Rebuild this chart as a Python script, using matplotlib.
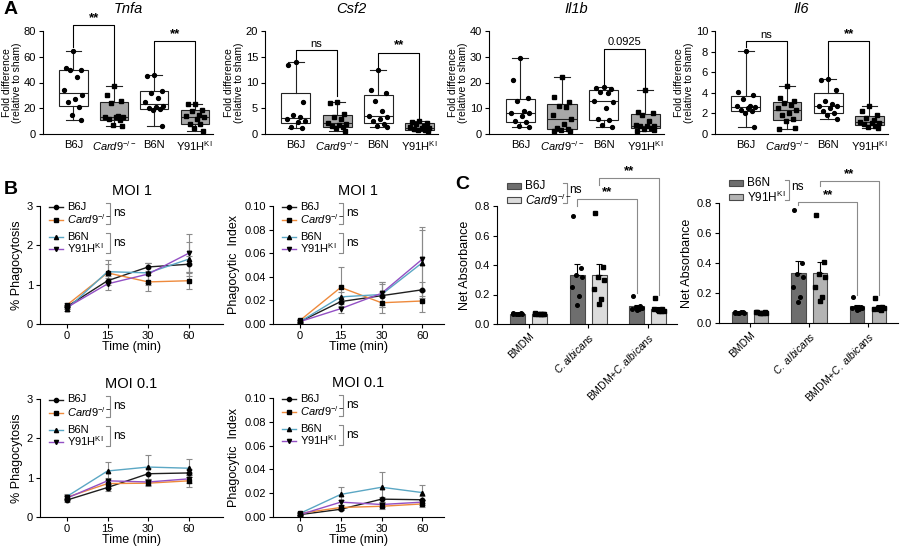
import numpy as np
import matplotlib
matplotlib.use('Agg')
import matplotlib.pyplot as plt
from matplotlib.patches import Rectangle

plt.rcParams['font.family'] = ['Liberation Sans', 'DejaVu Sans']
plt.rcParams['mathtext.fontset'] = 'custom'
plt.rcParams['mathtext.rm'] = 'Liberation Sans'
plt.rcParams['mathtext.it'] = 'Liberation Sans:italic'
plt.rcParams['mathtext.bf'] = 'Liberation Sans:bold'

W, H = 900, 549

# --- A: fold difference (relative to sham) ---
genotypes = ['B6J', r'$\mathit{Card9}^{-/-}$', 'B6N', r'Y91H$^{\mathrm{KI}}$']

tnfa_b6j = [64.5, 51.5, 50, 49.5, 44, 34, 30, 27, 25, 21, 15, 10.5]
tnfa_card9 = [37.3, 30, 25.5, 24, 14, 13.5, 13.5, 13, 12, 11, 7, 6.4]
tnfa_b6n = [45.8, 45, 33.5, 32, 28, 25, 22, 21, 20, 19.5, 19, 6]
tnfa_y91h = [23.4, 23, 18.5, 18, 15, 14, 13, 12, 8, 7.5, 5, 2.6]

csf2_b6j = [13.9, 13.4, 6.2, 3.7, 3.3, 3.0, 2.6, 2.4, 1.3, 1.2]
csf2_card9 = [6.2, 6.0, 3.8, 3.3, 2.9, 2.2, 2.0, 1.8, 1.5, 1.3, 1.1, 0.65]
csf2_b6n = [12.5, 8.5, 8.0, 6.4, 4.5, 3.5, 3.3, 3.0, 2.5, 2.0, 1.6, 1.4]
csf2_y91h = [2.6, 2.3, 2.1, 1.9, 1.5, 1.3, 1.2, 1.1, 0.9, 0.8, 0.7, 0.6]

il1b_b6j = [29.5, 21, 14, 13, 9, 8, 8, 7, 5, 4.5, 3, 2.7]
il1b_card9 = [22, 14.5, 12.5, 11, 10.5, 7.5, 6.0, 4.0, 2.2, 2.0, 1.5, 1.2, 1.0]
il1b_b6n = [18.3, 18, 17.5, 16.5, 16, 13, 12.5, 10, 6, 5.5, 3.5, 2.6]
il1b_y91h = [17, 8.5, 8, 7.5, 5, 3.5, 3.2, 3, 3, 2.5, 2, 1.5, 1]

il6_b6j = [8.1, 4.1, 3.8, 3.4, 2.7, 2.7, 2.6, 2.5, 2.3, 2.2, 2.0, 0.7]
il6_card9 = [4.65, 3.5, 3.2, 3.0, 2.8, 2.5, 2.3, 2.0, 1.8, 1.5, 1.3, 0.6, 0.5]
il6_b6n = [5.3, 5.2, 4.3, 3.2, 2.9, 2.7, 2.7, 2.5, 2.2, 2.0, 1.8, 1.45]
il6_y91h = [2.7, 2.2, 1.8, 1.6, 1.4, 1.2, 1.1, 1.1, 1.0, 0.8, 0.7, 0.6]

# --- B: phagocytosis time course ---
times = ['0', '15', '30', '60']
moi1_pct = {'B6J': [0.44, 1.10, 1.45, 1.52], 'Card9': [0.48, 1.30, 1.07, 1.10],
            'B6N': [0.38, 1.33, 1.30, 1.65], 'Y91H': [0.42, 1.02, 1.27, 1.80]}
moi1_pct_err = {'B6J': [0.05, 0.12, 0.10, 0.20], 'Card9': [0.05, 0.22, 0.23, 0.20],
                'B6N': [0.05, 0.30, 0.25, 0.43], 'Y91H': [0.05, 0.15, 0.27, 0.48]}
moi1_idx = {'B6J': [0.002, 0.019, 0.024, 0.029], 'Card9': [0.003, 0.031, 0.018, 0.0195],
            'B6N': [0.002, 0.023, 0.025, 0.052], 'Y91H': [0.002, 0.013, 0.026, 0.055]}
moi1_idx_err = {'B6J': [0.001, 0.004, 0.010, 0.007], 'Card9': [0.001, 0.017, 0.009, 0.009],
                'B6N': [0.001, 0.004, 0.011, 0.028], 'Y91H': [0.001, 0.004, 0.010, 0.027]}
moi01_pct = {'B6J': [0.43, 0.75, 1.10, 1.12], 'Card9': [0.50, 0.85, 0.86, 0.92],
             'B6N': [0.52, 1.17, 1.27, 1.24], 'Y91H': [0.48, 0.92, 0.89, 0.97]}
moi01_pct_err = {'B6J': [0.05, 0.10, 0.15, 0.10], 'Card9': [0.05, 0.10, 0.08, 0.15],
                 'B6N': [0.07, 0.23, 0.30, 0.23], 'Y91H': [0.05, 0.08, 0.08, 0.10]}
moi01_idx = {'B6J': [0.002, 0.0065, 0.015, 0.0145], 'Card9': [0.003, 0.008, 0.009, 0.011],
             'B6N': [0.003, 0.019, 0.025, 0.0205], 'Y91H': [0.002, 0.0125, 0.0105, 0.0125]}
moi01_idx_err = {'B6J': [0.001, 0.001, 0.002, 0.003], 'Card9': [0.001, 0.002, 0.002, 0.003],
                 'B6N': [0.001, 0.006, 0.013, 0.0065], 'Y91H': [0.001, 0.002, 0.002, 0.002]}

# --- C: net absorbance ---
conditions_left = ['BMDM', r'$\mathit{C. albicans}$', r'BMDM+$\mathit{C.albicans}$']
conditions_right = ['BMDM', r'$\mathit{C.\ albicans}$', r'BMDM+$\mathit{C.\ albicans}$']
b6j_abs = [[0.075, 0.072, 0.070, 0.068, 0.071, 0.066, 0.069],
           [0.73, 0.38, 0.33, 0.32, 0.25, 0.19, 0.13],
           [0.19, 0.12, 0.115, 0.11, 0.105, 0.10, 0.095]]
card9_abs = [[0.072, 0.070, 0.068, 0.071, 0.067, 0.069, 0.066],
             [0.755, 0.385, 0.32, 0.30, 0.24, 0.17, 0.135],
             [0.175, 0.10, 0.095, 0.09, 0.10, 0.085, 0.09]]
b6n_abs = [[0.074, 0.071, 0.069, 0.070, 0.068, 0.072, 0.067],
           [0.755, 0.40, 0.325, 0.31, 0.24, 0.175, 0.14],
           [0.175, 0.11, 0.105, 0.10, 0.10, 0.095, 0.09]]
y91h_abs = [[0.073, 0.071, 0.070, 0.068, 0.072, 0.069, 0.067],
            [0.72, 0.41, 0.325, 0.31, 0.24, 0.175, 0.145],
            [0.165, 0.105, 0.10, 0.10, 0.095, 0.09, 0.095]]

fig = plt.figure(figsize=(9, 5.49), dpi=100)


def add_ax(l, r, t, b):
    ax = fig.add_axes([l / W, 1 - b / H, (r - l) / W, (b - t) / H])
    ax.spines[['top', 'right']].set_visible(False)
    ax.spines[['left', 'bottom']].set_linewidth(0.8)
    ax.tick_params(direction='out', length=3, width=0.8, labelsize=8, pad=2)
    return ax


def ax_frac(ax, dx, dy):
    bb = ax.get_position()
    return dx / (bb.width * W), 1 - dy / (bb.height * H)


def bracket(ax, x1, x2, y, y1, y2, txt, color='k', fs=9, bold=False, dy=0.0):
    ax.plot([x1, x1, x2, x2], [y1, y, y, y2], color=color, lw=0.8, clip_on=False)
    ax.text((x1 + x2) / 2, y + dy, txt, ha='center', va='bottom', fontsize=fs,
            fontweight='bold' if bold else 'normal', clip_on=False)


jit = [0.0, -0.18, 0.18, -0.08, 0.1, -0.22, 0.22, 0.05, -0.13, 0.14, -0.03, 0.2, -0.2]

# ---------------- Panel A ----------------
a_panels = [
    ('Tnfa', [tnfa_b6j, tnfa_card9, tnfa_b6n, tnfa_y91h], 80, 20, 43, 213,
     [(0, 1, 84.4, 67.5, 39, '**'), (2, 3, 72.3, 48, 25.5, '**')]),
    ('Csf2', [csf2_b6j, csf2_card9, csf2_b6n, csf2_y91h], 20, 5, 265, 438,
     [(0, 1, 16.3, 14.5, 7.3, 'ns'), (2, 3, 15.8, 12.9, 3.2, '**')]),
    ('Il1b', [il1b_b6j, il1b_card9, il1b_b6n, il1b_y91h], 40, 10, 489, 664,
     [(2, 3, 33.2, 18.9, 17.7, '0.0925')]),
    ('Il6', [il6_b6j, il6_card9, il6_b6n, il6_y91h], 10, 2, 715, 888,
     [(0, 1, 9.0, 8.4, 4.8, 'ns'), (2, 3, 9.0, 5.6, 2.85, '**')]),
]
box_fill = ['white', '#a8a8a8', 'white', '#a8a8a8']
pt_marker = ['o', 's', 'o', 's']

for title, groups, ymax, ystep, l, r, sigs in a_panels:
    ax = add_ax(l, r, 31, 134)
    stats = []
    for g in groups:
        q1, med, q3 = np.percentile(g, [25, 50, 75], method='weibull')
        stats.append(dict(med=med, q1=q1, q3=q3, whislo=min(g), whishi=max(g), fliers=[]))
    bp = ax.bxp(stats, positions=range(4), widths=0.7, capwidths=0.38, patch_artist=True,
                showfliers=False, manage_ticks=False,
                boxprops=dict(linewidth=0.8, edgecolor='#222222'),
                whiskerprops=dict(linewidth=0.8, color='#222222'),
                capprops=dict(linewidth=0.8, color='#222222'),
                medianprops=dict(linewidth=0.8, color='#222222'))
    for patch, fc in zip(bp['boxes'], box_fill):
        patch.set_facecolor(fc)
    for i, g in enumerate(groups):
        xs = [i + jit[k % len(jit)] for k in range(len(g))]
        ax.plot(xs, g, ls='none', marker=pt_marker[i], ms=2.8, color='k', zorder=5)
    ax.set_xlim(-0.75, 3.45)
    ax.set_ylim(0, ymax)
    ax.set_yticks(np.arange(0, ymax + ystep / 2, ystep))
    ax.tick_params(axis='y', labelsize=8)
    ax.set_xticks(range(4))
    ax.set_xticklabels(genotypes, fontsize=8)
    ax.tick_params(axis='x', length=0, pad=4)
    ax.set_ylabel('Fold difference\n(relative to sham)', fontsize=7.5, labelpad=1, linespacing=1.0)
    ax.set_title(title, style='italic', fontsize=10.5, pad=13)
    for x1, x2, y, y1, y2, txt in sigs:
        bracket(ax, x1, x2, y, y1, y2, txt, fs=8 if txt != '**' else 9.5,
                bold=(txt == '**'), dy=ymax * 0.01)

# ---------------- Panel B ----------------
styles = [('B6J', 'B6J', '#1f1f1f', 'o'),
          ('Card9', r'$\mathit{Card9}^{-/-}$', '#ee8a3c', 's'),
          ('B6N', 'B6N', '#5ba7c4', '^'),
          ('Y91H', r'Y91H$^{\mathrm{KI}}$', '#9350c4', 'v')]
legend_rows = [0.5, 13.5, 31, 42.5]

b_panels = [
    (moi1_pct, moi1_pct_err, 'MOI 1', '% Phagocytosis', 3, 1, '%d', 40, 223, 206, 324, 3.84),
    (moi1_idx, moi1_idx_err, 'MOI 1', 'Phagocytic  Index', 0.10, 0.02, '%.2f', 273, 444, 206, 324, 3.53),
    (moi01_pct, moi01_pct_err, 'MOI 0.1', '% Phagocytosis', 3, 1, '%d', 40, 223, 399, 517, 3.84),
    (moi01_idx, moi01_idx_err, 'MOI 0.1', 'Phagocytic  Index', 0.10, 0.02, '%.2f', 273, 444, 398, 517, 3.53),
]
xpos = np.arange(len(times))
for data, err, title, ylab, ymax, ystep, fmt, l, r, t, b, xr in b_panels:
    ax = add_ax(l, r, t, b)
    for key, lab, col, mk in styles:
        ax.errorbar(xpos, data[key], yerr=err[key], fmt='none', ecolor='#8a8a8a',
                    elinewidth=0.8, capsize=2, capthick=0.8, zorder=2)
        ax.plot(xpos, data[key], color=col, lw=1.0, zorder=3)
        ax.plot(xpos, data[key], ls='none', marker=mk, ms=3.2, color='k', zorder=4)
    ax.set_xlim(-0.66, xr)
    ax.set_ylim(0, ymax)
    yt = np.arange(0, ymax + ystep / 2, ystep)
    ax.set_yticks(yt)
    ax.set_yticklabels([fmt % v for v in yt], fontsize=8)
    ax.set_xticks(xpos)
    ax.set_xticklabels(times, fontsize=8)
    ax.set_xlabel('Time (min)', fontsize=9, labelpad=0)
    ax.set_ylabel(ylab, fontsize=9, labelpad=3)
    ax.set_title(title, fontsize=10.5, pad=8)
    # legend with ns brackets
    for (key, lab, col, mk), dy in zip(styles, legend_rows):
        x0, y = ax_frac(ax, 9, dy)
        x1, _ = ax_frac(ax, 23, dy)
        xm, _ = ax_frac(ax, 16, dy)
        xt, _ = ax_frac(ax, 27, dy)
        ax.plot([x0, x1], [y, y], color=col, lw=1.0, transform=ax.transAxes, clip_on=False)
        ax.plot([xm], [y], marker=mk, ms=3.0, color='k', transform=ax.transAxes, clip_on=False)
        ax.text(xt, y, lab, va='center', ha='left', fontsize=8, transform=ax.transAxes)
    for top, bot in [(legend_rows[0], legend_rows[1]), (legend_rows[2], legend_rows[3])]:
        xa, ya = ax_frac(ax, 66, top - 4)
        xb, yb = ax_frac(ax, 70, bot + 4)
        ax.plot([xa, xb, xb, xa], [ya, ya, yb, yb], color='#8a8a8a', lw=0.8,
                transform=ax.transAxes, clip_on=False)
        xn, yn = ax_frac(ax, 73, (top + bot) / 2)
        ax.text(xn, yn, 'ns', va='center', ha='left', fontsize=8.5, transform=ax.transAxes)

# ---------------- Panel C ----------------
c_panels = [
    (b6j_abs, card9_abs, 'B6J', r'$\mathit{Card9}^{-/-}$', '#dcdcdc', conditions_left,
     497, 677, 206, 324, 2.49,
     [(0.815, 1.815, 0.847, 0.80, 0.21), (1.185, 2.185, 0.99, 0.94, 0.20)]),
    (b6n_abs, y91h_abs, 'B6N', r'Y91H$^{\mathrm{KI}}$', '#b4b4b4', conditions_right,
     719, 898, 203, 323, 2.51,
     [(0.815, 1.815, 0.807, 0.785, 0.19), (1.185, 2.185, 0.947, 0.91, 0.19)]),
]
pjit = [-0.07, 0.06, -0.02, 0.08, -0.08, 0.03, 0.0]
for wt, ko, wt_lab, ko_lab, ko_col, conds, l, r, t, b, xr, sigs in c_panels:
    ax = add_ax(l, r, t, b)
    xc = np.arange(len(conds))
    for vals, off, fc, mk in [(wt, -0.185, '#6e6e6e', 'o'), (ko, 0.185, ko_col, 's')]:
        means = [np.mean(v) for v in vals]
        sems = [np.std(v, ddof=1) / np.sqrt(len(v)) for v in vals]
        ax.bar(xc + off, means, width=0.25, color=fc, edgecolor='#4a4a4a', linewidth=0.8, zorder=2)
        ax.errorbar(xc + off, means, yerr=[[0] * len(means), sems], fmt='none', ecolor='k',
                    elinewidth=0.8, capsize=2, capthick=0.8, zorder=3)
        for i, v in enumerate(vals):
            ax.plot([i + off + pjit[k % 7] for k in range(len(v))], v, ls='none', marker=mk,
                    ms=2.6, color='k', zorder=4)
    ax.set_xlim(-0.53, xr)
    ax.set_ylim(0, 0.8)
    ax.set_yticks(np.arange(0, 0.81, 0.2))
    ax.set_yticklabels(['%.1f' % v for v in np.arange(0, 0.81, 0.2)], fontsize=8)
    ax.set_xticks(xc)
    ax.set_xticklabels(conds, rotation=45, ha='right', rotation_mode='anchor', fontsize=7.5)
    ax.set_ylabel('Net Absorbance', fontsize=9, labelpad=3)
    for x1, x2, y, y1, y2 in sigs:
        bracket(ax, x1, x2, y, y1, y2, '**', color='#8a8a8a', fs=9.5, bold=True, dy=0.005)
    # legend
    for dy, fc, lab in [(-20, '#6e6e6e', wt_lab), (-6, ko_col, ko_lab)]:
        x0, y0 = ax_frac(ax, 10, dy + 3)
        x1, y1 = ax_frac(ax, 24, dy - 3)
        ax.add_patch(Rectangle((x0, y0), x1 - x0, y1 - y0, transform=ax.transAxes,
                               facecolor=fc, edgecolor='#4a4a4a', lw=0.8, clip_on=False))
        xt, yt = ax_frac(ax, 28, dy)
        ax.text(xt, yt, lab, va='center', ha='left', fontsize=8.5, transform=ax.transAxes)
    xa, ya = ax_frac(ax, 66, -23)
    xb, yb = ax_frac(ax, 70, -3)
    ax.plot([xa, xb, xb, xa], [ya, ya, yb, yb], color='#8a8a8a', lw=0.8,
            transform=ax.transAxes, clip_on=False)
    xn, yn = ax_frac(ax, 72, -16)
    ax.text(xn, yn, 'ns', va='center', ha='left', fontsize=8.5, transform=ax.transAxes)

# panel letters
fig.text(4 / W, 1 - 10 / H, 'A', fontsize=14, fontweight='bold', va='center')
fig.text(4 / W, 1 - 190 / H, 'B', fontsize=14, fontweight='bold', va='center')
fig.text(455 / W, 1 - 184 / H, 'C', fontsize=14, fontweight='bold', va='center')

fig.savefig('out.png', dpi=100)
